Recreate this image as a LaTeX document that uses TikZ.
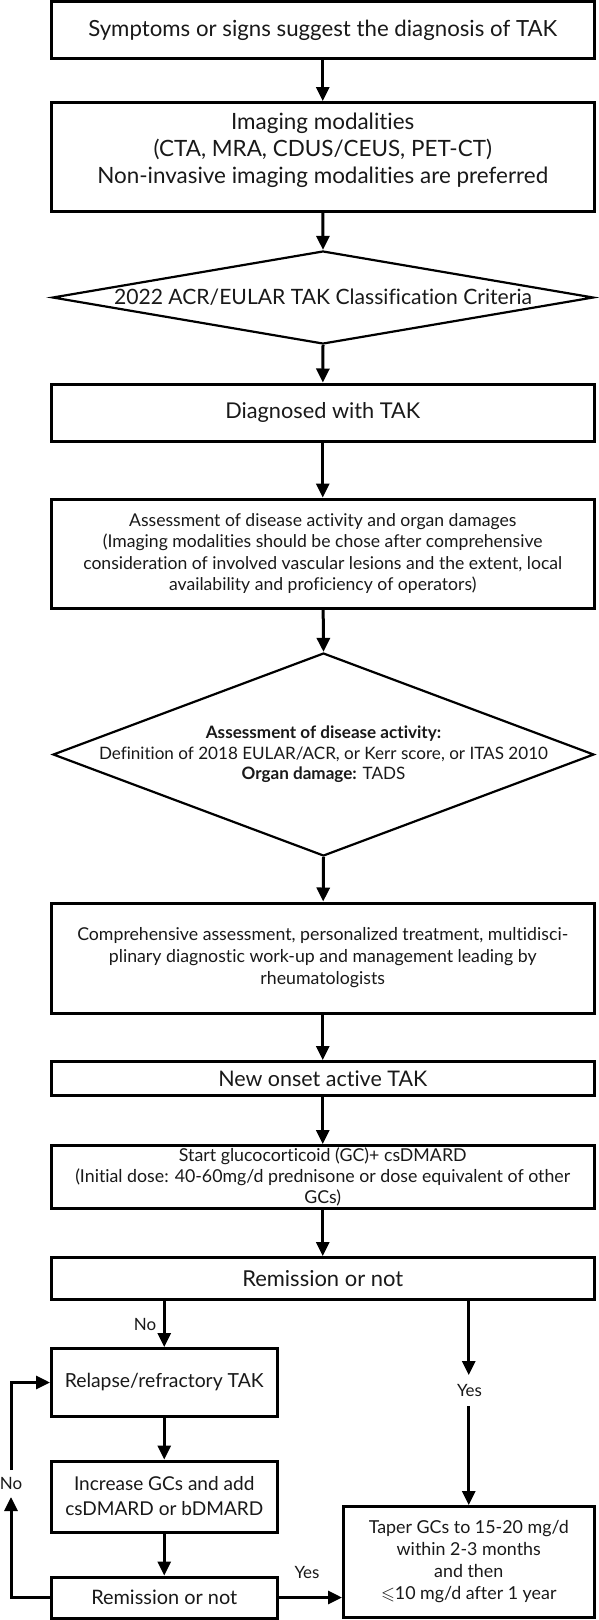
\documentclass[tikz,border=0pt]{standalone}
\usepackage{amssymb}
\usepackage{fontspec}
\setmainfont{Lato}[Ligatures={NoCommon}]
\usetikzlibrary{arrows.meta,shapes.geometric}
\newlength\mytmpw
\newcommand\calib[3]{\settowidth{\mytmpw}{\fontsize{10pt}{12pt}\selectfont #3}\pgfmathsetmacro{#1}{10*#2/\mytmpw}\global\let#1#1}
\AtBeginDocument{%
\calib{\fA}{469}{Symptoms or signs suggest the diagnosis of TAK}%
\calib{\fB}{451}{Non-invasive imaging modalities are preferred}%
\calib{\fC}{418}{2022 ACR/EULAR TAK Classification Criteria}%
\calib{\fD}{195}{Diagnosed with TAK}%
\calib{\fE}{479}{consideration of involved vascular lesions and the extent, local}%
\calib{\fF}{449}{Definition of 2018 EULAR/ACR, or Kerr score, or ITAS 2010}%
\calib{\fG}{491}{Comprehensive assessment, personalized treatment, multidisci-}%
\calib{\fH}{209}{New onset active TAK}%
\calib{\fI}{495}{(Initial dose: 40-60mg/d prednisone or dose equivalent of other}%
\calib{\fJ}{161}{Remission or not}%
\calib{\fK}{199}{Relapse/refractory TAK}%
\calib{\fL}{198}{csDMARD or bDMARD}%
\calib{\fM}{146}{Remission or not}%
\calib{\fN}{200}{Taper GCs to 15-20 mg/d}%
\calib{\fO}{25}{Yes}}
\begin{document}
\begin{tikzpicture}[x=1pt,y=-1pt,
  box/.style={draw, line width=3pt, inner sep=0pt, align=center, text=black!90},
  dia/.style={draw, diamond, line width=2.2pt, inner sep=0pt},
  lbl/.style={inner sep=0pt, outer sep=0pt, text=black!90},
  fsz/.style 2 args={font=\fontsize{#1pt}{#2pt}\selectfont},
  arr/.style={line width=3pt, -{Triangle[width=13pt,length=14pt]}}]
\useasboundingbox (0,0) rectangle (598,1620);
\fill[white] (0,0) rectangle (598,1620);
% boxes
\node[box, minimum width=542.5pt, minimum height=57.2pt, fsz={\fA}{24}] (b1) at (322.75,30.1) {Symptoms or signs suggest the diagnosis of TAK};
\node[box, minimum width=542.5pt, minimum height=108.5pt, fsz={\fB}{27}, text height=57.5pt, text depth=5pt] (b2) at (322.75,156.75) {Imaging modalities\\(CTA, MRA, CDUS/CEUS, PET-CT)\\Non-invasive imaging modalities are preferred};
\node[dia, minimum width=541pt, minimum height=93pt] (d1) at (323,297.5) {};
\node[lbl, fsz={\fC}{24}] (d1t) at (d1.center) {2022 ACR/EULAR TAK Classification Criteria};
\node[box, minimum width=542.5pt, minimum height=57pt, fsz={\fD}{24}] (b3) at (322.75,412.5) {Diagnosed with TAK};
\node[box, minimum width=542.5pt, minimum height=109pt, fsz={\fE}{21.5}] (b4) at (322.75,553.5) {Assessment of disease activity and organ damages\\(Imaging modalities should be chose after comprehensive\\consideration of involved vascular lesions and the extent, local\\availability and proficiency of operators)};
\node[dia, minimum width=541pt, minimum height=203pt] (d2) at (323.5,754.5) {};
\node[lbl, align=center, fsz={\fF}{20.5}] (d2t) at (d2.center) {\textbf{Assessment of disease activity:}\\Definition of 2018 EULAR/ACR, or Kerr score, or ITAS 2010\\\textbf{Organ damage:} TADS};
\node[box, minimum width=542.5pt, minimum height=110pt, fsz={\fG}{22}] (b5) at (322.75,958) {Comprehensive assessment, personalized treatment, multidisci-\\plinary diagnostic work-up and management leading by\\rheumatologists};
\node[box, minimum width=542.5pt, minimum height=34pt, fsz={\fH}{24}] (b6) at (322.75,1078.5) {New onset active TAK};
\node[box, minimum width=542.5pt, minimum height=63pt, fsz={\fI}{21}] (b7) at (322.75,1177) {Start glucocorticoid (GC)+ csDMARD\\(Initial dose: 40-60mg/d prednisone or dose equivalent of other\\GCs)};
\node[box, minimum width=542.5pt, minimum height=42pt, fsz={\fJ}{24}] (b8) at (322.75,1278.5) {Remission or not};
\node[box, minimum width=225.5pt, minimum height=68pt, fsz={\fK}{24}] (rel) at (164.25,1382.5) {Relapse/refractory TAK};
\node[box, minimum width=225.5pt, minimum height=71pt, fsz={\fL}{25}] (inc) at (164.25,1496.5) {Increase GCs and add\\csDMARD or bDMARD};
\node[box, minimum width=225.5pt, minimum height=41pt, fsz={\fM}{24}] (rem2) at (164.25,1597.5) {Remission or not};
\node[box, minimum width=250.5pt, minimum height=111pt, fsz={\fN}{22}] (tap) at (468.75,1562) {Taper GCs to 15-20 mg/d\\within 2-3 months\\and then\\$\leqslant$10 mg/d after 1 year};
% labels
\node[lbl, fsz={\fO}{20}] (no1) at (145,1324) {No};
\node[lbl, fsz={\fO}{20}, minimum height=31pt] (yes1) at (469.5,1390.5) {Yes};
\node[lbl, fsz={\fO}{20}, minimum height=27pt] (no2) at (11,1483.5) {No};
\node[lbl, fsz={\fO}{20}] (yes2) at (307,1572) {Yes};
% connectors
\draw[arr] (b1) -- (b2);
\draw[arr] (b2) -- (d1.north);
\draw[arr] (d1.south) -- (b3);
\draw[arr] (b3) -- (b4);
\draw[arr] (b4) -- (d2.north);
\draw[arr] (d2.south) -- (b5);
\draw[arr] (b5) -- (b6);
\draw[arr] (b6) -- (b7);
\draw[arr] (b7) -- (b8);
\draw[arr] (rel.north |- b8.south) -- (rel.north);
\draw[arr] (tap.north |- b8.south) -- (tap.north |- yes1.north);
\draw[arr] (tap.north |- yes1.south) -- (tap.north);
\draw[arr] (rel) -- (inc);
\draw[arr] (inc) -- (rem2);
\draw[arr] (rem2.east) -- (rem2.east -| tap.west);
\draw[arr] (rem2.west) -| (no2.south);
\draw[arr] (no2.north) |- (rel.west);
\end{tikzpicture}
\end{document}
